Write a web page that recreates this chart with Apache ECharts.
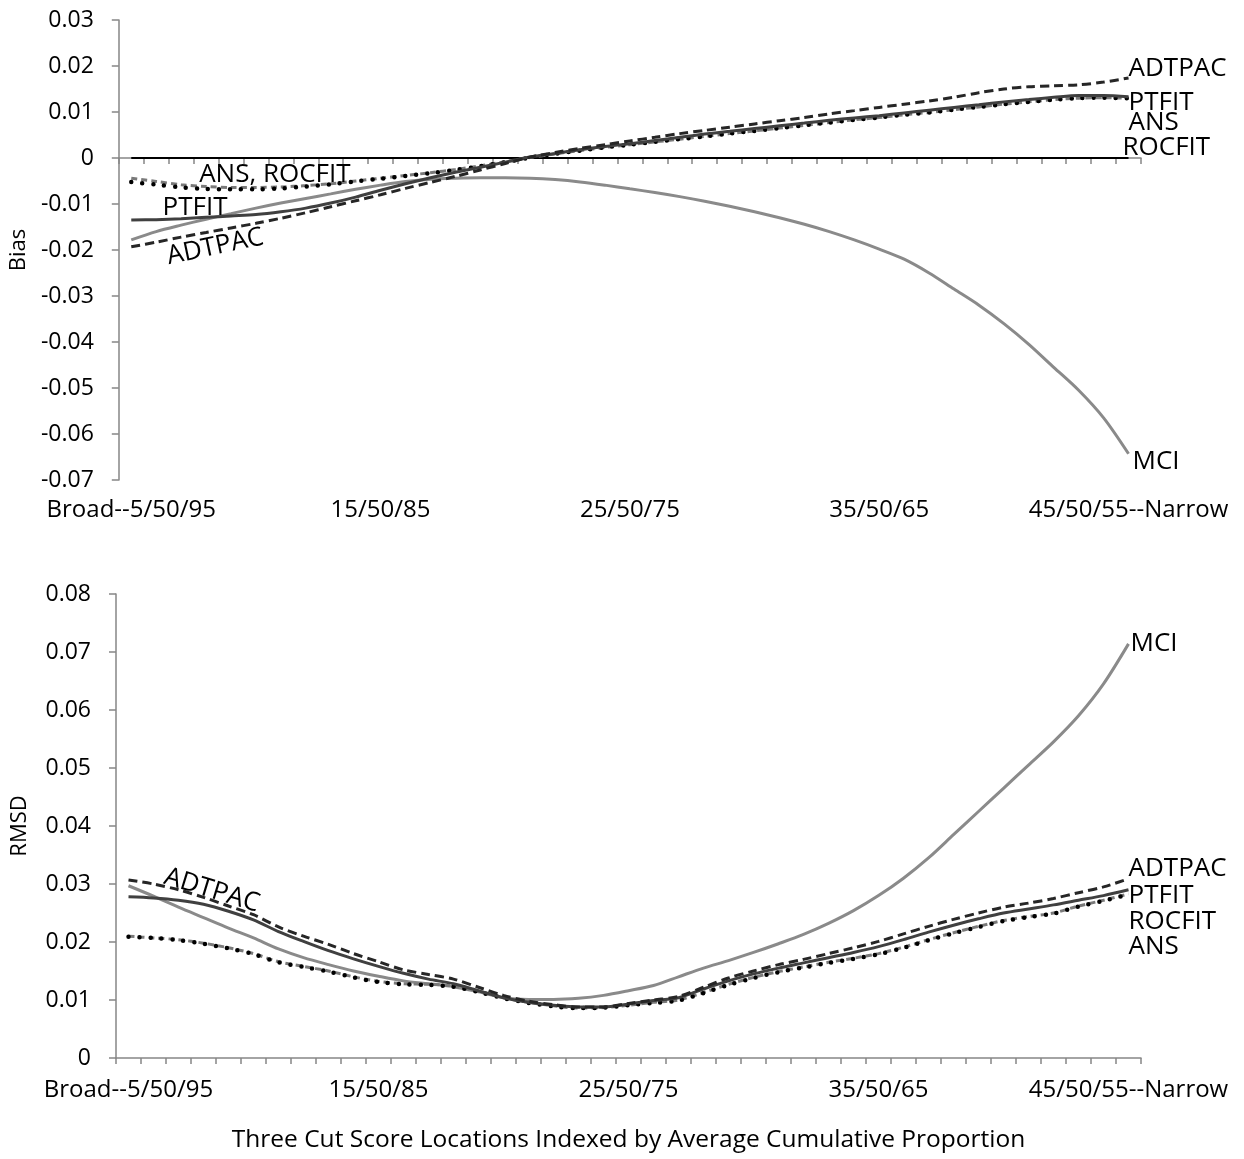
<!DOCTYPE html>
<html><head><meta charset="utf-8">
<script src="https://cdn.jsdelivr.net/npm/echarts@6/dist/echarts.min.js"></script>
<style>html,body{margin:0;padding:0;background:#fff}#c{width:1244px;height:1159px}</style>
</head><body><div id="c"></div>
<script>
const categories = ['5/50/95','6/50/94','7/50/93','8/50/92','9/50/91','10/50/90','11/50/89','12/50/88','13/50/87','14/50/86',
 '15/50/85','16/50/84','17/50/83','18/50/82','19/50/81','20/50/80','21/50/79','22/50/78','23/50/77','24/50/76',
 '25/50/75','26/50/74','27/50/73','28/50/72','29/50/71','30/50/70','31/50/69','32/50/68','33/50/67','34/50/66',
 '35/50/65','36/50/64','37/50/63','38/50/62','39/50/61','40/50/60','41/50/59','42/50/58','43/50/57','44/50/56','45/50/55'];
const tickLabels = {'5/50/95':'Broad--5/50/95','15/50/85':'15/50/85','25/50/75':'25/50/75','35/50/65':'35/50/65','45/50/55':'45/50/55--Narrow'};

// Bias (top panel)
const biasMCI = [-0.0178,-0.0160,-0.0146,-0.0133,-0.0121,-0.0109,-0.0098,-0.0088,-0.0078,-0.0068,
 -0.0059,-0.0051,-0.0046,-0.0044,-0.0043,-0.0043,-0.0044,-0.0047,-0.0052,-0.0059,
 -0.0067,-0.0075,-0.0084,-0.0094,-0.0105,-0.0117,-0.0130,-0.0144,-0.0160,-0.0178,
 -0.0198,-0.0220,-0.0250,-0.0285,-0.0320,-0.0360,-0.0405,-0.0455,-0.0505,-0.0565,-0.0643];
const biasPTFIT = [-0.0135,-0.0134,-0.0132,-0.0129,-0.0126,-0.0123,-0.0117,-0.0109,-0.0098,-0.0085,
 -0.0070,-0.0056,-0.0043,-0.0031,-0.0020,-0.0009,0.0002,0.0010,0.0018,0.0025,
 0.0031,0.0038,0.0045,0.0052,0.0058,0.0064,0.0070,0.0076,0.0082,0.0087,
 0.0092,0.0098,0.0104,0.0110,0.0116,0.0122,0.0127,0.0132,0.0136,0.0136,0.0133];
const biasADTPAC = [-0.0193,-0.0183,-0.0172,-0.0162,-0.0152,-0.0142,-0.0131,-0.0119,-0.0106,-0.0093,
 -0.0080,-0.0066,-0.0053,-0.0040,-0.0026,-0.0012,0.0002,0.0012,0.0021,0.0029,
 0.0037,0.0045,0.0053,0.0060,0.0067,0.0074,0.0081,0.0088,0.0096,0.0103,
 0.0110,0.0117,0.0124,0.0132,0.0142,0.0150,0.0155,0.0157,0.0159,0.0165,0.0174];
const biasANS = [-0.0044,-0.0051,-0.0058,-0.0062,-0.0064,-0.0064,-0.0063,-0.0060,-0.0056,-0.0050,
 -0.0044,-0.0038,-0.0032,-0.0025,-0.0017,-0.0008,0.0001,0.0009,0.0016,0.0023,
 0.0029,0.0035,0.0041,0.0047,0.0053,0.0059,0.0065,0.0071,0.0077,0.0083,
 0.0088,0.0094,0.0099,0.0105,0.0111,0.0117,0.0122,0.0127,0.0130,0.0131,0.0130];
const biasROCFIT = [-0.0052,-0.0058,-0.0064,-0.0067,-0.0068,-0.0068,-0.0066,-0.0062,-0.0057,-0.0051,
 -0.0045,-0.0039,-0.0033,-0.0026,-0.0018,-0.0009,0.0001,0.0009,0.0016,0.0023,
 0.0029,0.0035,0.0041,0.0047,0.0053,0.0059,0.0065,0.0071,0.0077,0.0083,
 0.0088,0.0094,0.0099,0.0105,0.0111,0.0117,0.0122,0.0127,0.0130,0.0131,0.0130];
const biasZero = [0,0,0,0,0,0,0,0,0,0,0,0,0,0,0,0,0,0,0,0,0,0,0,0,0,0,0,0,0,0,0,0,0,0,0,0,0,0,0,0,0];

// RMSD (bottom panel)
const rmsdMCI = [0.0297,0.0279,0.0260,0.0242,0.0224,0.0207,0.0188,0.0173,0.0161,0.0150,
 0.0141,0.0133,0.0128,0.0123,0.0114,0.0104,0.0101,0.0101,0.0103,0.0108,
 0.0116,0.0125,0.0140,0.0155,0.0168,0.0182,0.0197,0.0213,0.0232,0.0254,
 0.0280,0.0310,0.0345,0.0385,0.0425,0.0465,0.0505,0.0545,0.0590,0.0645,0.0714];
const rmsdPTFIT = [0.0278,0.0276,0.0272,0.0265,0.0253,0.0238,0.0218,0.0201,0.0185,0.0171,
 0.0158,0.0146,0.0136,0.0128,0.0116,0.0104,0.0096,0.0091,0.0088,0.0088,
 0.0093,0.0099,0.0104,0.0119,0.0133,0.0145,0.0155,0.0164,0.0173,0.0182,
 0.0192,0.0204,0.0217,0.0229,0.0240,0.0250,0.0257,0.0264,0.0272,0.0280,0.0290];
const rmsdADTPAC = [0.0307,0.0300,0.0290,0.0277,0.0262,0.0247,0.0226,0.0210,0.0196,0.0180,
 0.0166,0.0152,0.0144,0.0136,0.0122,0.0108,0.0098,0.0092,0.0088,0.0088,
 0.0094,0.0100,0.0106,0.0122,0.0138,0.0150,0.0161,0.0170,0.0180,0.0190,
 0.0201,0.0214,0.0227,0.0239,0.0250,0.0260,0.0267,0.0275,0.0285,0.0295,0.0309];
const rmsdANS = [0.0210,0.0207,0.0204,0.0198,0.0190,0.0180,0.0166,0.0158,0.0150,0.0140,
 0.0132,0.0128,0.0127,0.0124,0.0115,0.0104,0.0096,0.0090,0.0086,0.0087,
 0.0091,0.0096,0.0100,0.0113,0.0127,0.0139,0.0149,0.0157,0.0165,0.0172,
 0.0180,0.0191,0.0204,0.0216,0.0227,0.0237,0.0244,0.0250,0.0262,0.0272,0.0283];
const rmsdROCFIT = [0.0209,0.0207,0.0203,0.0197,0.0189,0.0179,0.0165,0.0157,0.0149,0.0139,
 0.0131,0.0127,0.0126,0.0123,0.0114,0.0103,0.0095,0.0089,0.0086,0.0087,
 0.0091,0.0095,0.0099,0.0112,0.0126,0.0138,0.0148,0.0156,0.0164,0.0171,
 0.0179,0.0190,0.0203,0.0215,0.0226,0.0236,0.0243,0.0249,0.0261,0.0271,0.0282];

const FONT = '"Open Sans", sans-serif';
const last = categories.length - 1;
const fmt = v => parseFloat(v.toFixed(3)).toString();

function lbl(name, coord, opts) {
  return {
    coord: coord, symbolSize: 0,
    label: Object.assign({show: true, formatter: name, color: '#000', fontFamily: FONT, fontSize: 26,
      position: 'right', distance: 0}, opts || {})
  };
}

const styles = {
  MCI: {color: '#8a8a8a', width: 3, type: 'solid'},
  PTFIT: {color: '#404040', width: 3, type: 'solid'},
  ADTPAC: {color: '#262626', width: 3, type: [9, 5]},
  ANS: {color: '#7a7a7a', width: 3, type: [6, 4]},
  ROCFIT: {color: '#000000', width: 4.5, type: [0, 11], cap: 'round'}
};

function ser(name, data, xi, labels) {
  return {
    name: name, type: 'line', xAxisIndex: xi, yAxisIndex: xi, data: data,
    smooth: 0.3, symbol: 'none', silent: true, animation: false,
    lineStyle: styles[name],
    markPoint: labels ? {symbol: 'circle', symbolSize: 0, animation: false, silent: true, data: labels} : undefined
  };
}

function xAxis(gi, withName) {
  return {
    type: 'category', gridIndex: gi, data: categories, boundaryGap: true,
    axisLine: {lineStyle: {color: '#868686', width: 1.5}},
    axisTick: {show: true, interval: 0, length: 6, lineStyle: {color: '#868686', width: 1.5}},
    axisLabel: {interval: 9, color: '#000', fontFamily: FONT, fontSize: 24, margin: gi === 0 ? 18 : 20,
      formatter: v => tickLabels[v] || ''},
    name: withName ? 'Three Cut Score Locations Indexed by Average Cumulative Proportion' : '',
    nameLocation: 'middle', nameGap: 70,
    nameTextStyle: {color: '#000', fontFamily: FONT, fontSize: 24.5}
  };
}
function yAxis(gi, min, max, name, gap) {
  return {
    type: 'value', gridIndex: gi, min: min, max: max, interval: 0.01,
    axisLine: {show: true, lineStyle: {color: '#868686', width: 1.5}},
    axisTick: {show: true, length: 7, lineStyle: {color: '#868686', width: 1.5}},
    splitLine: {show: false},
    axisLabel: {color: '#000', fontFamily: FONT, fontSize: 23, margin: 25, formatter: fmt},
    name: name, nameLocation: 'middle', nameGap: gap, nameRotate: 90,
    nameTextStyle: {color: '#000', fontFamily: FONT, fontSize: 22}
  };
}

const option = {
  animation: false,
  grid: [
    {left: 116, top: 20, width: 1025, height: 460},
    {left: 116, top: 594, width: 1025, height: 464}
  ],
  xAxis: [xAxis(0, false), xAxis(1, true)],
  yAxis: [yAxis(0, -0.07, 0.03, 'Bias', 88), yAxis(1, 0, 0.08, 'RMSD', 85)],
  series: [
    {name: 'zero', type: 'line', xAxisIndex: 0, yAxisIndex: 0, data: biasZero, symbol: 'none',
      silent: true, lineStyle: {color: '#000', width: 2}},
    ser('MCI', biasMCI, 0, [lbl('MCI', [last, biasMCI[last]], {offset: [4, 8]})]),
    ser('ANS', biasANS, 0, [lbl('ANS', [last, biasANS[last]], {offset: [0, 24]}),
                            lbl('ANS, ROCFIT', [6, biasANS[6]], {position: 'inside', offset: [-6, -12]})]),
    ser('ROCFIT', biasROCFIT, 0, [lbl('ROCFIT', [last, biasROCFIT[last]], {offset: [-6, 49]})]),
    ser('PTFIT', biasPTFIT, 0, [lbl('PTFIT', [last, biasPTFIT[last]], {offset: [0, 6]}),
                                lbl('PTFIT', [3, biasPTFIT[3]], {position: 'inside', offset: [-11, -10]})]),
    ser('ADTPAC', biasADTPAC, 0, [lbl('ADTPAC', [last, biasADTPAC[last]], {offset: [0, -9]}),
                                  lbl('ADTPAC', [3, biasADTPAC[3]], {position: 'inside', offset: [6, 16], rotate: 12})]),
    ser('MCI', rmsdMCI, 1, [lbl('MCI', [last, rmsdMCI[last]], {offset: [2, 0]})]),
    ser('ANS', rmsdANS, 1, [lbl('ANS', [last, rmsdANS[last]], {offset: [0, 53]})]),
    ser('ROCFIT', rmsdROCFIT, 1, [lbl('ROCFIT', [last, rmsdROCFIT[last]], {offset: [0, 27]})]),
    ser('PTFIT', rmsdPTFIT, 1, [lbl('PTFIT', [last, rmsdPTFIT[last]], {offset: [0, 6]})]),
    ser('ADTPAC', rmsdADTPAC, 1, [lbl('ADTPAC', [last, rmsdADTPAC[last]], {offset: [0, -10]}),
                                  lbl('ADTPAC', [3, rmsdADTPAC[3]], {position: 'inside', offset: [6, -9], rotate: -17})])
  ]
};
const chart = echarts.init(document.getElementById('c'), null, {renderer: 'canvas'});
chart.setOption(option);
</script></body></html>
